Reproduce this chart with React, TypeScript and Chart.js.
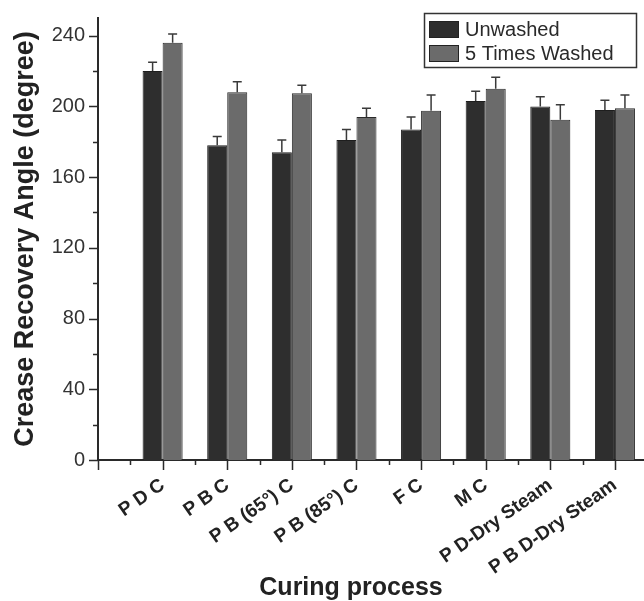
import React, { useEffect, useRef } from 'react';
import { Chart, registerables } from 'chart.js';
Chart.register(...registerables);

const categories = ['P D C', 'P B C', 'P B (65°) C', 'P B (85°) C', 'F C', 'M C', 'P D-Dry Steam', 'P B D-Dry Steam'];
const seriesNames = ['Unwashed', '5 Times Washed'];
const unwashed = [220, 178, 174, 181, 187, 203, 200, 198];
const unwashedErr = [5, 5, 7, 6, 7, 5.5, 5.5, 5.5];
const washed = [236, 208, 207.5, 194, 197.5, 210, 192.5, 199];
const washedErr = [5, 6, 4.5, 5, 9, 6.5, 8.5, 7.5];
const yTickValues = [0, 40, 80, 120, 160, 200, 240];
const xTitle = 'Curing process';
const yTitle = 'Crease Recovery Angle (degree)';

const FONT = '"Liberation Sans", Arial, sans-serif';
const AXIS = '#2a2a2a';

const errorBars = {
  id: 'errorBars',
  afterDatasetsDraw(chart: any) {
    const ctx = chart.ctx;
    const ys = chart.scales.y;
    chart.data.datasets.forEach((ds: any, di: number) => {
      const meta = chart.getDatasetMeta(di);
      meta.data.forEach((el: any, i: number) => {
        const v = ds.data[i].y;
        const top = ys.getPixelForValue(v + ds.errors[i]);
        ctx.save();
        ctx.strokeStyle = '#3a3a3a';
        ctx.lineWidth = 1.5;
        ctx.beginPath();
        ctx.moveTo(el.x, el.y);
        ctx.lineTo(el.x, top);
        ctx.moveTo(el.x - 4.5, top);
        ctx.lineTo(el.x + 4.5, top);
        ctx.stroke();
        ctx.restore();
      });
    });
  },
};

const axisDecor = {
  id: 'axisDecor',
  afterDraw(chart: any) {
    const ctx = chart.ctx;
    const xs = chart.scales.x;
    const ys = chart.scales.y;
    const area = chart.chartArea;
    ctx.save();
    ctx.strokeStyle = AXIS;
    ctx.lineWidth = 1.5;
    ctx.beginPath();
    for (let v = 0; v <= 240; v += 20) {
      const len = v % 40 === 0 ? 9 : 5;
      const py = Math.round(ys.getPixelForValue(v)) + 0.5;
      ctx.moveTo(area.left - len, py);
      ctx.lineTo(area.left, py);
    }
    for (let i = -1; i < categories.length + 1; i += 0.5) {
      const px = xs.getPixelForValue(i);
      if (px < area.left - 1 || px > area.right - 2) continue;
      const len = Number.isInteger(i) ? 10 : 5;
      ctx.moveTo(Math.round(px) + 0.5, area.bottom);
      ctx.lineTo(Math.round(px) + 0.5, area.bottom + len);
    }
    ctx.stroke();

    // x axis title
    ctx.fillStyle = '#222';
    ctx.font = 'bold 25px ' + FONT;
    ctx.textAlign = 'center';
    ctx.textBaseline = 'alphabetic';
    ctx.fillText(xTitle, 351, 595);

    // legend
    const bx = 424, by = 13, bw = 212, bh = 54;
    ctx.lineWidth = 1.5;
    ctx.strokeStyle = '#333';
    ctx.strokeRect(bx + 0.5, by + 0.5, bw, bh);
    ctx.font = '20px ' + FONT;
    ctx.textAlign = 'left';
    ctx.textBaseline = 'middle';
    chart.data.datasets.forEach((ds: any, di: number) => {
      const cy = 29 + di * 24;
      ctx.fillStyle = ds.backgroundColor;
      ctx.fillRect(429, cy - 8, 29, 16);
      ctx.lineWidth = 1;
      ctx.strokeStyle = '#222';
      ctx.strokeRect(429.5, cy - 8 + 0.5, 29, 16);
      ctx.fillStyle = '#2a2a2a';
      ctx.fillText(ds.label, 465, cy + 1);
    });
    ctx.restore();
  },
};

export default function App() {
  const ref = useRef<HTMLCanvasElement | null>(null);
  useEffect(() => {
    if (!ref.current) return;
    const chart = new Chart(ref.current, {
      type: 'bar',
      data: {
        datasets: [
          {
            label: seriesNames[0],
            data: unwashed.map((v, i) => ({ x: i, y: v })),
            errors: unwashedErr,
            backgroundColor: '#2e2e2e',
            borderColor: '#1e1e1e',
            borderWidth: 1,
          } as any,
          {
            label: seriesNames[1],
            data: washed.map((v, i) => ({ x: i, y: v })),
            errors: washedErr,
            backgroundColor: '#6b6b6b',
            borderColor: '#2a2a2a',
            borderWidth: 1,
          } as any,
        ],
      },
      options: {
        responsive: false,
        animation: false,
        layout: { padding: { top: 18, left: 0, right: 0, bottom: 0 } },
        datasets: { bar: { categoryPercentage: 0.62, barPercentage: 1 } },
        plugins: { legend: { display: false }, tooltip: { enabled: false } },
        scales: {
          x: {
            type: 'linear',
            offset: false,
            min: -1,
            max: 7.45,
            grid: { display: false, drawTicks: true, tickLength: 10, offset: false },
            border: { display: true, color: AXIS, width: 2 },
            afterFit: (s: any) => { s.height = 141; },
            ticks: {
              stepSize: 1,
              includeBounds: false,
              autoSkip: false,
              minRotation: 35,
              maxRotation: 35,
              padding: 4,
              color: '#222',
              font: { family: FONT, size: 19, weight: 'bold' },
              callback: (v: any) => (Number.isInteger(v) && v >= 0 && v < categories.length ? categories[v] : ''),
            },
          },
          y: {
            type: 'linear',
            min: 0,
            max: 250,
            grid: { display: false, drawTicks: true, tickLength: 9 },
            border: { display: true, color: AXIS, width: 2 },
            afterFit: (s: any) => { s.width = 98; },
            afterBuildTicks: (s: any) => { s.ticks = yTickValues.map((v) => ({ value: v })); },
            ticks: {
              padding: 4,
              color: '#333',
              font: { family: FONT, size: 20 },
            },
            title: {
              display: true,
              text: yTitle,
              color: '#222',
              font: { family: FONT, size: 27, weight: 'bold' },
              padding: { top: 9, bottom: 0 },
            },
          },
        },
      },
      plugins: [errorBars, axisDecor],
    });
    return () => chart.destroy();
  }, []);
  return (
    <div style={{ position: 'absolute', left: 0, top: 0, width: 644, height: 601, background: '#fff' }}>
      <canvas ref={ref} width={644} height={601} />
    </div>
  );
}
